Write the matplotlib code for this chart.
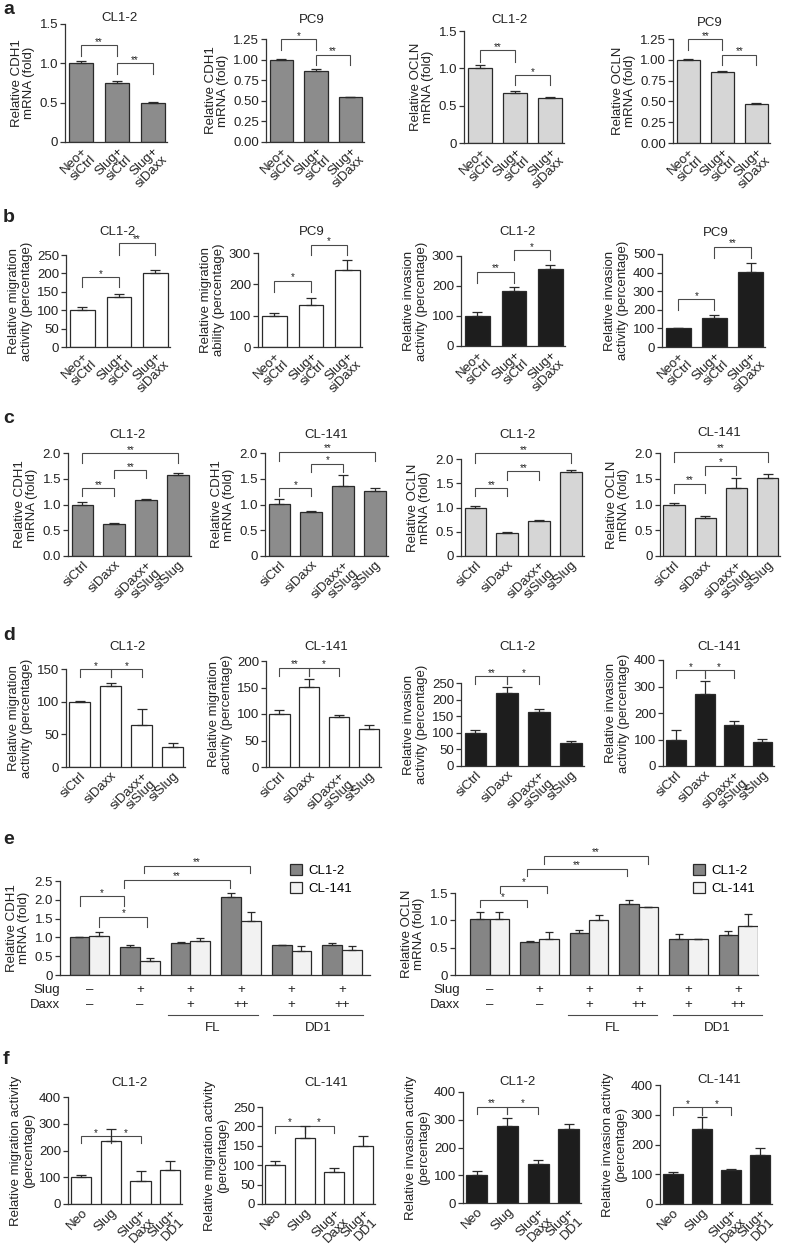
import numpy as np
import matplotlib
matplotlib.use("Agg")
import matplotlib.pyplot as plt
from matplotlib.transforms import blended_transform_factory

plt.rcParams['font.family'] = ['Liberation Sans', 'DejaVu Sans']
plt.rcParams['font.size'] = 9.5

W, H = 786, 1252
fig = plt.figure(figsize=(W / 100, H / 100), dpi=100)

# ------------------------------------------------------------------ data
lab_a = ["Neo+\nsiCtrl", "Slug+\nsiCtrl", "Slug+\nsiDaxx"]
lab_c = ["siCtrl", "siDaxx", "siDaxx+\nsiSlug", "siSlug"]
lab_f = ["Neo", "Slug", "Slug+\nDaxx", "Slug+\nDD1"]

a1_val = [1.00, 0.75, 0.50];   a1_err = [0.03, 0.02, 0.005]
a2_val = [1.00, 0.86, 0.545];  a2_err = [0.01, 0.02, 0.006]
a3_val = [1.00, 0.67, 0.60];   a3_err = [0.04, 0.02, 0.01]
a4_val = [1.00, 0.855, 0.465]; a4_err = [0.01, 0.012, 0.01]

b1_val = [100, 135, 200]; b1_err = [10, 8, 9]
b2_val = [100, 135, 247]; b2_err = [10, 20, 30]
b3_val = [100, 182, 257]; b3_err = [15, 15, 13]
b4_val = [100, 158, 403]; b4_err = [4, 12, 48]

c1_val = [1.00, 0.63, 1.09, 1.58]; c1_err = [0.05, 0.015, 0.015, 0.03]
c2_val = [1.01, 0.85, 1.36, 1.26]; c2_err = [0.09, 0.03, 0.21, 0.06]
c3_val = [1.00, 0.48, 0.73, 1.73]; c3_err = [0.03, 0.01, 0.02, 0.04]
c4_val = [1.00, 0.73, 1.32, 1.52]; c4_err = [0.02, 0.04, 0.20, 0.08]

d1_val = [100, 124, 65, 31];  d1_err = [1, 5, 24, 6]
d2_val = [100, 151, 95, 72];  d2_err = [7, 15, 3, 7]
d3_val = [100, 220, 163, 68]; d3_err = [8, 18, 10, 8]
d4_val = [100, 272, 155, 90]; d4_err = [35, 48, 15, 12]

e_series = ["CL1-2", "CL-141"]
e_slug = ["\u2013", "+", "+", "+", "+", "+"]
e_daxx = ["\u2013", "\u2013", "+", "++", "+", "++"]
e1_cl12 = [1.00, 0.75, 0.86, 2.07, 0.79, 0.80]
e1_cl12_err = [0.005, 0.04, 0.01, 0.10, 0.02, 0.06]
e1_cl141 = [1.03, 0.38, 0.90, 1.44, 0.63, 0.66]
e1_cl141_err = [0.12, 0.08, 0.08, 0.24, 0.13, 0.10]
e2_cl12 = [1.02, 0.61, 0.77, 1.30, 0.65, 0.73]
e2_cl12_err = [0.14, 0.01, 0.05, 0.08, 0.10, 0.07]
e2_cl141 = [1.02, 0.66, 1.00, 1.24, 0.65, 0.90]
e2_cl141_err = [0.14, 0.13, 0.09, 0.01, 0.01, 0.21]

f1_val = [100, 237, 87, 126];  f1_err = [7, 43, 38, 35]
f2_val = [100, 170, 83, 150];  f2_err = [10, 30, 9, 24]
f3_val = [100, 277, 141, 265]; f3_err = [15, 30, 13, 18]
f4_val = [100, 252, 115, 164]; f4_err = [8, 42, 3, 25]

# ------------------------------------------------------------------ style
TXT = '#222222'
LINE = '#333333'
EDGE = '#2a2a2a'
BR = '#4a4a4a'
C_CDH1 = '#8c8c8c'
C_OCLN = '#d6d6d6'
C_WHITE = '#ffffff'
C_BLACK = '#1d1d1d'
C_EDARK = '#858585'
C_ELIGHT = '#f2f2f2'
FS = 9.5


def px_axes(x0, x1, top, bottom):
    return fig.add_axes([x0 / W, 1 - bottom / H, (x1 - x0) / W, (bottom - top) / H])


def style_axes(ax, ymax, yticks, yticklabels):
    for s in ['top', 'right']:
        ax.spines[s].set_visible(False)
    for s in ['left', 'bottom']:
        ax.spines[s].set_linewidth(0.9)
        ax.spines[s].set_color(LINE)
    ax.set_ylim(0, ymax)
    ax.set_yticks(yticks)
    ax.set_yticklabels(yticklabels)
    ax.tick_params(axis='y', length=3.5, width=0.9, color=LINE, labelcolor=TXT,
                   pad=1.5, labelsize=FS)
    ax.tick_params(axis='x', length=0, labelcolor=TXT, labelsize=FS, pad=2)
    ax.patch.set_alpha(0)


def bracket(ax, x1, x2, top, leg, label):
    ax.plot([x1, x1, x2, x2], [leg, top, top, leg], color=BR, lw=0.8,
            clip_on=False, solid_joinstyle='miter')
    ax.annotate(label, xy=((x1 + x2) / 2, top), xytext=(0, 0.3),
                textcoords='offset points', ha='center', va='baseline',
                fontsize=7, color=TXT, annotation_clip=False)


def fig_text(x, y, s, **kw):
    fig.text(x / W, 1 - y / H, s, color=TXT, **kw)


def bar_panel(box, vals, errs, color, labels, ymax, yticks, ytl, ylabel,
              title, title_xy, brackets):
    ax = px_axes(*box)
    n = len(vals)
    x = np.arange(n)
    ax.bar(x, vals, width=0.68, color=color, edgecolor=EDGE, linewidth=0.9, zorder=2)
    ax.errorbar(x, vals, yerr=[np.zeros(n), errs], fmt='none', ecolor=EDGE,
                elinewidth=0.9, capsize=3.5, capthick=0.9, zorder=3, clip_on=False)
    ax.set_xlim(-0.45, n - 0.6)
    style_axes(ax, ymax, yticks, ytl)
    ax.set_xticks(x)
    ax.set_xticklabels(labels, rotation=45, ha='right', va='top',
                       rotation_mode='anchor', linespacing=1.0)
    ax.set_ylabel(ylabel, fontsize=FS, linespacing=1.05, labelpad=3, color=TXT)
    for (i, j, top, leg, lab) in brackets:
        bracket(ax, i, j, top, leg, lab)
    fig_text(title_xy[0], title_xy[1], title, ha='center', va='center', fontsize=FS)
    return ax


def e_panel(box, xlim, v1, e1, v2, e2, ymax, yticks, ytl, ylabel, brackets,
            legend_xy, row_label_x, fl_span, dd1_span):
    ax = px_axes(*box)
    n = len(v1)
    x = np.arange(n)
    w = 0.39
    b1 = ax.bar(x - w / 2, v1, w, color=C_EDARK, edgecolor=EDGE, linewidth=0.9,
                zorder=2, label=e_series[0])
    b2 = ax.bar(x + w / 2, v2, w, color=C_ELIGHT, edgecolor=EDGE, linewidth=0.9,
                zorder=2, label=e_series[1])
    ax.errorbar(x - w / 2, v1, yerr=[np.zeros(n), e1], fmt='none', ecolor=EDGE,
                elinewidth=0.9, capsize=3, capthick=0.9, zorder=3)
    ax.errorbar(x + w / 2, v2, yerr=[np.zeros(n), e2], fmt='none', ecolor=EDGE,
                elinewidth=0.9, capsize=3, capthick=0.9, zorder=3)
    ax.set_xlim(*xlim)
    style_axes(ax, ymax, yticks, ytl)
    ax.set_xticks([])
    ax.set_ylabel(ylabel, fontsize=FS, linespacing=1.05, labelpad=3, color=TXT)
    for (i, j, top, leg, lab) in brackets:
        bracket(ax, i, j, top, leg, lab)
    ax.legend(handles=[b1, b2], loc='upper left',
              bbox_to_anchor=(legend_xy[0] / W, 1 - legend_xy[1] / H),
              bbox_transform=fig.transFigure, frameon=False, fontsize=FS,
              handlelength=0.9, handleheight=0.9, handletextpad=0.5,
              labelspacing=0.35, borderpad=0, borderaxespad=0)
    tr = blended_transform_factory(ax.transData, fig.transFigure)
    y_slug = 1 - 990 / H
    y_daxx = 1 - 1005 / H
    for k in range(n):
        ax.text(k, y_slug, e_slug[k], transform=tr, ha='center', va='center',
                fontsize=FS, color=TXT)
        ax.text(k, y_daxx, e_daxx[k], transform=tr, ha='center', va='center',
                fontsize=FS, color=TXT)
    fig_text(row_label_x, 990, "Slug", ha='right', va='center', fontsize=FS)
    fig_text(row_label_x, 1005, "Daxx", ha='right', va='center', fontsize=FS)
    yl = 1 - 1015 / H
    yt = 1 - 1028 / H
    for (a, b), name in [(fl_span, "FL"), (dd1_span, "DD1")]:
        ax.plot([a, b], [yl, yl], transform=tr, color=BR, lw=0.8, clip_on=False)
        ax.text((a + b) / 2, yt, name, transform=tr, ha='center', va='center',
                fontsize=FS, color=TXT)
    return ax


tk_a1 = ([0, 0.5, 1.0, 1.5], ['0', '0.5', '1.0', '1.5'])
tk_a2 = ([0, 0.25, 0.5, 0.75, 1.0, 1.25], ['0.00', '0.25', '0.50', '0.75', '1.00', '1.25'])
tk_c0 = ([0, 0.5, 1.0, 1.5, 2.0], ['0.0', '0.5', '1.0', '1.5', '2.0'])
tk_c = ([0, 0.5, 1.0, 1.5, 2.0], ['0', '0.5', '1.0', '1.5', '2.0'])


def itk(top, step):
    t = list(range(0, top + 1, step))
    return (t, [str(v) for v in t])


YL_CDH1 = "Relative CDH1\nmRNA (fold)"
YL_OCLN = "Relative OCLN\nmRNA (fold)"
YL_MIG = "Relative migration\nactivity (percentage)"
YL_MIGAB = "Relative migration\nability (percentage)"
YL_INV = "Relative invasion\nactivity (percentage)"
YL_MIGF = "Relative migration activity\n(percentage)"
YL_INVF = "Relative invasion activity\n(percentage)"

# ----- row a
bar_panel((65, 167, 24, 142), a1_val, a1_err, C_CDH1, lab_a, 1.5, *tk_a1, YL_CDH1,
          "CL1-2", (120, 18), [(0, 1, 1.23, 1.09, '**'), (1, 2, 1.0, 0.86, '**')])
bar_panel((266, 364, 39, 142), a2_val, a2_err, C_CDH1, lab_a, 1.25, *tk_a2, YL_CDH1,
          "PC9", (312, 20), [(0, 1, 1.25, 1.12, '*'), (1, 2, 1.06, 0.93, '**')])
bar_panel((464, 564, 31, 143), a3_val, a3_err, C_OCLN, lab_a, 1.5, *tk_a1, YL_OCLN,
          "CL1-2", (510, 20), [(0, 1, 1.245, 1.08, '**'), (1, 2, 0.91, 0.78, '*')])
bar_panel((673, 770, 39, 143), a4_val, a4_err, C_OCLN, lab_a, 1.25, *tk_a2, YL_OCLN,
          "PC9", (710, 23), [(0, 1, 1.25, 1.12, '**'), (1, 2, 1.06, 0.94, '**')])

# ----- row b
bar_panel((66, 170, 255, 347), b1_val, b1_err, C_WHITE, lab_a, 250, *itk(250, 50), YL_MIG,
          "CL1-2", (117, 232), [(0, 1, 190, 163, '*'), (1, 2, 283, 250, '**')])
bar_panel((258, 362, 253, 347), b2_val, b2_err, C_WHITE, lab_a, 300, *itk(300, 100), YL_MIGAB,
          "PC9", (312, 232), [(0, 1, 211, 176, '*'), (1, 2, 326, 294, '*')])
bar_panel((461, 565, 256, 346), b3_val, b3_err, C_BLACK, lab_a, 300, *itk(300, 100), YL_INV,
          "CL1-2", (518, 232), [(0, 1, 247, 210, '**'), (1, 2, 320, 287, '*')])
bar_panel((662, 765, 254, 347), b4_val, b4_err, C_BLACK, lab_a, 500, *itk(500, 100), YL_INV,
          "PC9", (716, 233), [(0, 1, 258, 199, '*'), (1, 2, 538, 478, '**')])

# ----- row c
bar_panel((68, 191, 453, 556), c1_val, c1_err, C_CDH1, lab_c, 2.0, *tk_c0, YL_CDH1,
          "CL1-2", (128, 435),
          [(0, 1, 1.32, 1.17, '**'), (1, 2, 1.67, 1.51, '**'), (0, 3, 2.0, 1.8, '**')])
bar_panel((265, 388, 453, 556), c2_val, c2_err, C_CDH1, lab_c, 2.0, *tk_c, YL_CDH1,
          "CL-141", (326, 435),
          [(0, 1, 1.32, 1.17, '*'), (1, 2, 1.79, 1.63, '*'), (0, 3, 2.02, 1.85, '**')])
bar_panel((461, 584, 459, 556), c3_val, c3_err, C_OCLN, lab_c, 2.0, *tk_c, YL_OCLN,
          "CL1-2", (518, 435),
          [(0, 1, 1.40, 1.24, '**'), (1, 2, 1.75, 1.57, '**'), (0, 3, 2.12, 1.92, '**')])
bar_panel((660, 780, 453, 556), c4_val, c4_err, C_OCLN, lab_c, 2.0, *tk_c, YL_OCLN,
          "CL-141", (719, 433),
          [(0, 1, 1.40, 1.22, '**'), (1, 2, 1.75, 1.57, '*'), (0, 3, 2.02, 1.82, '**')])

# ----- row d
bar_panel((66, 185, 669, 767), d1_val, d1_err, C_WHITE, lab_c, 150, *itk(150, 50), YL_MIG,
          "CL1-2", (128, 647), [(0, 1, 150, 137, '*'), (1, 2, 150, 137, '*')])
bar_panel((266, 381, 661, 767), d2_val, d2_err, C_WHITE, lab_c, 200, *itk(200, 50), YL_MIG,
          "CL-141", (326, 647), [(0, 1, 187, 171, '**'), (1, 2, 187, 171, '*')])
bar_panel((461, 584, 683, 766), d3_val, d3_err, C_BLACK, lab_c, 250, *itk(250, 50), YL_INV,
          "CL1-2", (518, 647), [(0, 1, 271, 248, '**'), (1, 2, 271, 248, '*')])
bar_panel((663, 774, 660, 766), d4_val, d4_err, C_BLACK, lab_c, 400, *itk(400, 100), YL_INV,
          "CL-141", (719, 647), [(0, 1, 362, 332, '*'), (1, 2, 362, 332, '*')])

# ----- row e
e_panel((60, 370, 881, 975), (-0.58, 5.55), e1_cl12, e1_cl12_err, e1_cl141, e1_cl141_err,
        2.5, [0, 0.5, 1.0, 1.5, 2.0, 2.5], ['0', '0.5', '1.0', '1.5', '2.0', '2.5'], YL_CDH1,
        [(-0.19, 0.68, 2.10, 1.83, '*'), (0.20, 1.15, 1.55, 1.28, '*'),
         (0.68, 2.78, 2.53, 2.32, '**'), (1.08, 3.17, 2.90, 2.72, '**')],
        (290, 864), 60, (1.56, 3.33), (3.63, 5.41))
e_panel((455, 758, 893, 975), (-0.7, 5.4), e2_cl12, e2_cl12_err, e2_cl141, e2_cl141_err,
        1.5, [0, 0.5, 1.0, 1.5], ['0', '0.5', '1.0', '1.5'], YL_OCLN,
        [(-0.20, 0.74, 1.37, 1.24, '*'), (0.20, 1.15, 1.63, 1.50, '*'),
         (0.74, 2.76, 1.94, 1.81, '**'), (1.09, 3.18, 2.18, 2.03, '**')],
        (693, 864), 460, (1.57, 3.36), (3.68, 5.49))

# ----- row f
bar_panel((68, 182, 1097, 1204), f1_val, f1_err, C_WHITE, lab_f, 400, *itk(400, 100), YL_MIGF,
          "CL1-2", (129, 1083), [(0, 1, 254, 227, '*'), (1, 2, 254, 227, '*')])
bar_panel((262, 375, 1107, 1204), f2_val, f2_err, C_WHITE, lab_f, 250, *itk(250, 50), YL_MIGF,
          "CL-141", (326, 1083), [(0, 1, 202, 183, '*'), (1, 2, 202, 183, '*')])
bar_panel((463, 581, 1092, 1203), f3_val, f3_err, C_BLACK, lab_f, 400, *itk(400, 100), YL_INVF,
          "CL1-2", (518, 1082), [(0, 1, 347, 321, '**'), (1, 2, 347, 321, '*')])
bar_panel((660, 772, 1085, 1204), f4_val, f4_err, C_BLACK, lab_f, 400, *itk(400, 100), YL_INVF,
          "CL-141", (719, 1080), [(0, 1, 326, 299, '*'), (1, 2, 326, 299, '*')])

# ----- panel letters
for letter, y in [("a", 10), ("b", 217), ("c", 419), ("d", 635), ("e", 839), ("f", 1059)]:
    fig_text(3, y, letter, ha='left', va='center', fontsize=14, fontweight='bold')

fig.savefig("out.png", dpi=100)
